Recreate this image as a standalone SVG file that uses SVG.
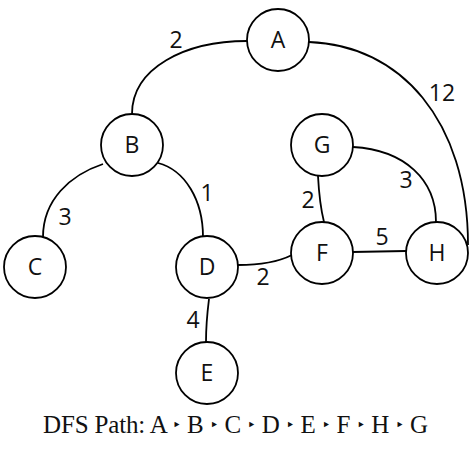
<svg xmlns="http://www.w3.org/2000/svg" width="474" height="474" viewBox="0 0 474 474">
<style>
.n circle{fill:#fff;stroke:#000;stroke-width:1.8}
.n text,.w{font-family:"Open Sans","Liberation Sans",sans-serif;font-size:23px;fill:#111;text-anchor:middle}
.e path{fill:none;stroke:#000;stroke-width:1.8}
.cap{font-family:"Liberation Serif","DejaVu Serif",serif;font-size:25px;fill:#111}
.b{font-size:15px}
</style>
<rect width="474" height="474" fill="#fff"/>
<g class="e" id="edges">
<path d="M247,41 C185,41 132,68 132,114"/>
<path d="M309,42 C400,45 468,120 468,245"/>
<path d="M103,164 C70,175 43,200 43,237"/>
<path d="M158,163 C185,170 203,200 203,237"/>
<path d="M238,265 C260,265 278,262 292,255"/>
<path d="M209,299 C207,315 206,328 206,342"/>
<path d="M318,176 C319,195 321,210 324,222"/>
<path d="M352,252 L406,251"/>
<path d="M353,147 C405,150 436,180 436,222"/>
</g>
<g class="labels">
<text class="w" x="176" y="48">2</text>
<text class="w" x="442" y="101">12</text>
<text class="w" x="65" y="225">3</text>
<text class="w" x="207" y="201">1</text>
<text class="w" x="263" y="285">2</text>
<text class="w" x="193" y="328">4</text>
<text class="w" x="308" y="208">2</text>
<text class="w" x="382" y="245">5</text>
<text class="w" x="406" y="188">3</text>
</g>
<g class="n" id="A"><circle cx="278" cy="40" r="31"/><text x="278" y="48">A</text></g>
<g class="n" id="B"><circle cx="132" cy="145" r="31"/><text x="132" y="153">B</text></g>
<g class="n" id="G"><circle cx="322" cy="145" r="31"/><text x="322" y="153">G</text></g>
<g class="n" id="C"><circle cx="35" cy="267" r="31"/><text x="35" y="275">C</text></g>
<g class="n" id="D"><circle cx="207" cy="267" r="31"/><text x="207" y="275">D</text></g>
<g class="n" id="F"><circle cx="322" cy="253" r="31"/><text x="322" y="261">F</text></g>
<g class="n" id="H"><circle cx="437" cy="253" r="31"/><text x="437" y="261">H</text></g>
<g class="n" id="E"><circle cx="207" cy="373" r="31"/><text x="207" y="381">E</text></g>
<text class="cap" x="43" y="433" textLength="385" lengthAdjust="spacing">DFS Path: A <tspan class="b" dy="-3">‣</tspan><tspan dy="3"> B </tspan><tspan class="b" dy="-3">‣</tspan><tspan dy="3"> C </tspan><tspan class="b" dy="-3">‣</tspan><tspan dy="3"> D </tspan><tspan class="b" dy="-3">‣</tspan><tspan dy="3"> E </tspan><tspan class="b" dy="-3">‣</tspan><tspan dy="3"> F </tspan><tspan class="b" dy="-3">‣</tspan><tspan dy="3"> H </tspan><tspan class="b" dy="-3">‣</tspan><tspan dy="3"> G</tspan></text>
</svg>
